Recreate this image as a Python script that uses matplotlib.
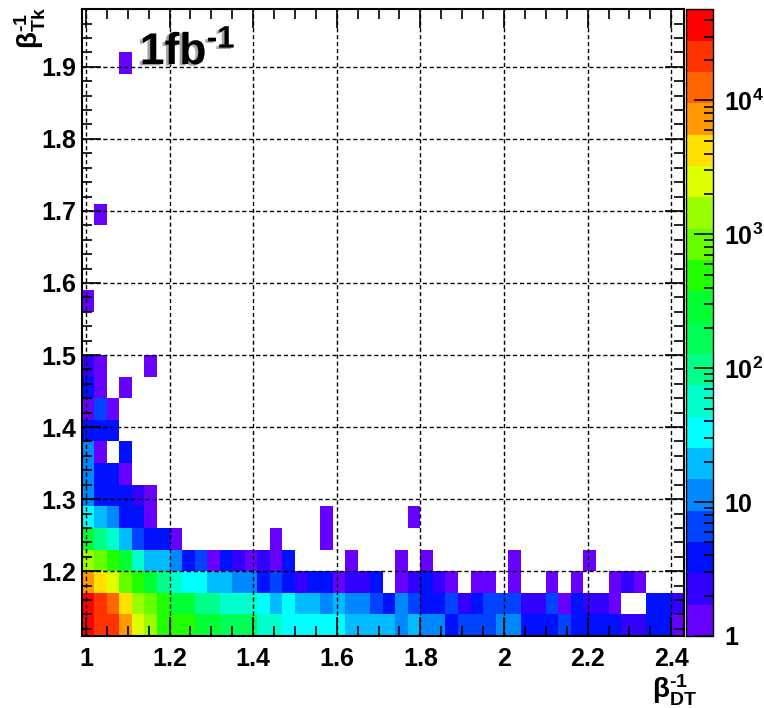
import numpy as np
import matplotlib
matplotlib.use("Agg")
import matplotlib.pyplot as plt
import matplotlib.patheffects as pe
from matplotlib.colors import ListedColormap, LogNorm
from matplotlib.ticker import LogLocator, MultipleLocator, NullFormatter

plt.rcParams['font.family'] = ['Liberation Sans', 'DejaVu Sans']
plt.rcParams['font.weight'] = 'bold'
plt.rcParams['mathtext.fontset'] = 'custom'
plt.rcParams['mathtext.rm'] = 'Liberation Sans'
plt.rcParams['mathtext.it'] = 'Liberation Sans:italic'
plt.rcParams['mathtext.bf'] = 'Liberation Sans:bold'

# binning: 0.03 wide in both directions
x_edges = np.round(np.linspace(0.99, 2.43, 49), 3)
y_edges = np.round(np.linspace(1.11, 1.98, 30), 3)

# full rows, one count per beta_DT bin (0 = empty)
row_111 = [48000, 25000, 22000, 7500, 2500, 1500, 500, 500, 500, 300, 300, 170,
           170, 170, 60, 60, 35, 35, 35, 35, 35, 20, 20, 20,
           20, 11, 20, 11, 11, 4, 7, 7, 7, 11, 11, 4,
           4, 4, 7, 4, 4, 4, 4, 2, 2, 4, 4, 1]
row_114 = [38000, 22000, 12500, 4300, 1500, 850, 500, 300, 300, 100, 100, 60,
           60, 60, 35, 20, 35, 20, 20, 11, 20, 11, 11, 7,
           4, 11, 7, 4, 4, 7, 2, 4, 7, 7, 7, 2,
           2, 7, 1, 4, 2, 2, 1, 0, 0, 4, 4, 2]
row_117 = [7500, 4300, 2500, 850, 500, 300, 100, 60, 35, 35, 20, 20,
           11, 11, 4, 7, 4, 2, 4, 4, 1, 2, 2, 4,
           0, 1, 2, 4, 2, 1, 0, 1, 1, 0, 1, 0,
           0, 1, 0, 1, 0, 0, 1, 2, 1, 0, 0, 0]
row_120 = [1500, 850, 500, 300, 60, 20, 20, 11, 4, 7, 1, 4,
           2, 1, 2, 1, 4, 0, 0, 0, 0, 1, 0, 0,
           0, 1, 0, 1, 0, 0, 0, 0, 0, 0, 1, 0,
           0, 0, 0, 0, 1, 0, 0, 0, 0, 0, 0, 0]

# higher rows, only the first bins are filled
row_123 = [300, 100, 60, 20, 7, 4, 4, 1]
row_126 = [35, 20, 11, 4, 4, 1]
row_129 = [11, 4, 4, 4, 2, 1]
row_132 = [11, 4, 4, 1]
row_135 = [11, 1, 0, 4]
row_138 = [4, 4, 4]
row_141 = [1, 7, 1]
row_144 = [4, 1, 0, 1]
row_147 = [2, 1, 0, 0, 0, 1]

# isolated bins: (beta_DT low edge, beta_Tk low edge, count)
isolated = [(1.44, 1.23, 1), (1.56, 1.23, 1), (1.56, 1.26, 1), (1.77, 1.26, 1),
            (0.99, 1.56, 1), (1.02, 1.68, 1), (1.08, 1.89, 1)]

rows = {1.11: row_111, 1.14: row_114, 1.17: row_117, 1.20: row_120,
        1.23: row_123, 1.26: row_126, 1.29: row_129, 1.32: row_132,
        1.35: row_135, 1.38: row_138, 1.41: row_141, 1.44: row_144,
        1.47: row_147}

H = np.zeros((len(y_edges) - 1, len(x_edges) - 1))
for ylow, vals in rows.items():
    j = int(round((ylow - y_edges[0]) / 0.03))
    H[j, :len(vals)] = vals
for xlow, ylow, c in isolated:
    i = int(round((xlow - x_edges[0]) / 0.03))
    j = int(round((ylow - y_edges[0]) / 0.03))
    H[j, i] = c

x_ticks = [1.0, 1.2, 1.4, 1.6, 1.8, 2.0, 2.2, 2.4]
x_labels = ['1', '1.2', '1.4', '1.6', '1.8', '2', '2.2', '2.4']
y_ticks = [1.2, 1.3, 1.4, 1.5, 1.6, 1.7, 1.8, 1.9]
y_labels = ['1.2', '1.3', '1.4', '1.5', '1.6', '1.7', '1.8', '1.9']
z_ticks = [1, 10, 100, 1000, 10000]
z_labels = ['1', '10', r'$\mathbf{10^{2}}$', r'$\mathbf{10^{3}}$', r'$\mathbf{10^{4}}$']

# ROOT-like 20 level palette, low to high
palette = ['#6600ff', '#3300ff', '#0011ff', '#0044ff', '#0088ff', '#00bbff',
           '#00ffff', '#00ffcc', '#00ff88', '#00ff55', '#00ff33', '#22ff00',
           '#66ff00', '#99ff00', '#ddff00', '#ffe000', '#ff9900', '#ff6600',
           '#ff3300', '#ff0000']
cmap = ListedColormap(palette)
norm = LogNorm(vmin=1, vmax=H.max())

fig = plt.figure(figsize=(7.64, 7.08), dpi=100)
ax = fig.add_axes([0.107, 0.1017, 0.788, 0.8853])
mesh = ax.pcolormesh(x_edges, y_edges, np.ma.masked_equal(H, 0),
                     cmap=cmap, norm=norm, antialiased=False, linewidth=0)

ax.set_xlim(x_edges[0], x_edges[-1])
ax.set_ylim(y_edges[0], y_edges[-1])
ax.set_xticks(x_ticks, x_labels)
ax.set_yticks(y_ticks, y_labels)
ax.xaxis.set_minor_locator(MultipleLocator(0.05))
ax.yaxis.set_minor_locator(MultipleLocator(0.02))
ax.set_axisbelow(False)
ax.grid(True, which='major', color='black', linestyle=(0, (3, 2)), linewidth=1)
ax.tick_params(which='both', direction='in', top=True, right=True,
               labelsize=18, width=1.2)
ax.tick_params(which='major', length=14)
ax.tick_params(which='minor', length=7.5)
ax.tick_params(axis='x', pad=8)
ax.tick_params(axis='y', pad=4)
for s in ax.spines.values():
    s.set_linewidth(1.5)

cax = fig.add_axes([0.898, 0.1017, 0.035, 0.8853])
cb = fig.colorbar(mesh, cax=cax)
cb.outline.set_linewidth(1)
cax.yaxis.set_ticks_position('right')
cax.set_yticks(z_ticks, z_labels)
cax.yaxis.set_minor_locator(LogLocator(base=10, subs=range(2, 10)))
cax.yaxis.set_minor_formatter(NullFormatter())
cax.tick_params(which='both', direction='in', labelsize=18, width=1.2, pad=8)
cax.tick_params(which='major', length=14)
cax.tick_params(which='minor', length=6.5)

fig.text(0.853, 0.0, '$\\mathrm{\\beta}^{\\mathbf{\u20101}}_{\\mathbf{DT}}$',
         fontsize=20, ha='left', va='bottom')
fig.text(0.04, 0.99, '$\\mathrm{\\beta}^{\\mathbf{\u20101}}_{\\mathbf{Tk}}$',
         fontsize=20, rotation=90, ha='center', va='top')
fig.text(0.183, 0.909, '$\\mathbf{1fb^{\u20101}}$', fontsize=32,
         ha='left', va='baseline',
         path_effects=[pe.SimplePatchShadow(offset=(-2, -1), shadow_rgbFace='0.5',
                                            alpha=0.7), pe.Normal()])

fig.savefig('out.png', dpi=100)
